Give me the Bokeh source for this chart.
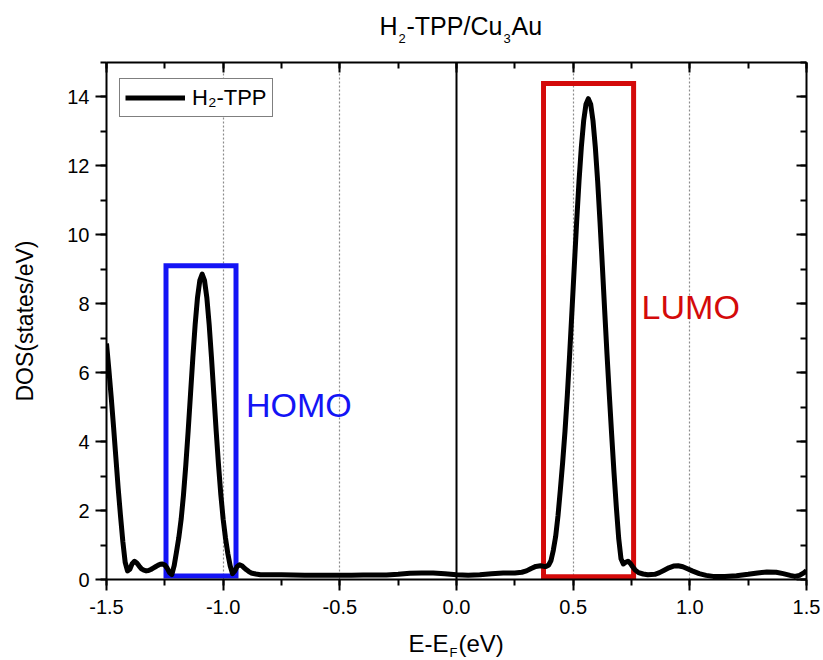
from bokeh.plotting import figure
from bokeh.layouts import column
from bokeh.models import (Range1d, LinearAxis, SingleIntervalTicker, NumeralTickFormatter,
                          Grid, FixedTicker, Label, Legend, LegendItem, CustomJSTickFormatter,
                          ColumnDataSource)
from bokeh.core.properties import value
from bokeh.embed import file_html
from bokeh.resources import INLINE

# ---------------- data ----------------
energy = [-1.50, -1.49, -1.48, -1.47, -1.46, -1.45, -1.44, -1.43, -1.42, -1.41,
          -1.40, -1.39, -1.38, -1.37, -1.36, -1.35, -1.34, -1.33, -1.32, -1.31,
          -1.30, -1.29, -1.28, -1.27, -1.26, -1.25, -1.24, -1.23, -1.22, -1.21,
          -1.20, -1.19, -1.18, -1.17, -1.16, -1.15, -1.14, -1.13, -1.12, -1.11,
          -1.10, -1.09, -1.08, -1.07, -1.06, -1.05, -1.04, -1.03, -1.02, -1.01,
          -1.00, -0.99, -0.98, -0.97, -0.96, -0.95, -0.94, -0.93, -0.92, -0.91,
          -0.90, -0.89, -0.88, -0.86, -0.84, -0.80, -0.75, -0.70, -0.65, -0.60,
          -0.55, -0.50, -0.45, -0.40, -0.35, -0.30, -0.25, -0.20, -0.15, -0.10,
          -0.05, 0.00, 0.05, 0.10, 0.15, 0.20, 0.25, 0.28, 0.30, 0.32,
          0.34, 0.36, 0.375, 0.385, 0.395, 0.405, 0.415, 0.425, 0.435, 0.445,
          0.455, 0.465, 0.475, 0.485, 0.495, 0.505, 0.515, 0.525, 0.535, 0.545,
          0.555, 0.565, 0.575, 0.585, 0.595, 0.605, 0.615, 0.625, 0.635, 0.645,
          0.655, 0.665, 0.675, 0.685, 0.695, 0.705, 0.715, 0.725, 0.735, 0.745,
          0.755, 0.765, 0.78, 0.80, 0.82, 0.85, 0.87, 0.89, 0.91, 0.93,
          0.95, 0.97, 0.99, 1.01, 1.04, 1.07, 1.10, 1.15, 1.20, 1.25,
          1.29, 1.33, 1.37, 1.40, 1.43, 1.45, 1.47, 1.49, 1.50]
dos = [6.85, 6.10, 5.30, 4.45, 3.55, 2.65, 1.85, 1.10, 0.50, 0.25,
       0.30, 0.46, 0.53, 0.48, 0.39, 0.31, 0.27, 0.25, 0.26, 0.29,
       0.33, 0.37, 0.41, 0.44, 0.45, 0.42, 0.33, 0.20, 0.14, 0.40,
       0.80, 1.22, 1.75, 2.46, 3.33, 4.31, 5.37, 6.43, 7.40, 8.18,
       8.68, 8.86, 8.68, 8.18, 7.40, 6.43, 5.37, 4.31, 3.33, 2.46,
       1.75, 1.20, 0.75, 0.40, 0.17, 0.25, 0.38, 0.43, 0.40, 0.34,
       0.28, 0.23, 0.19, 0.16, 0.14, 0.14, 0.14, 0.13, 0.12, 0.12,
       0.12, 0.12, 0.12, 0.13, 0.13, 0.13, 0.15, 0.18, 0.19, 0.19,
       0.17, 0.14, 0.12, 0.14, 0.17, 0.19, 0.19, 0.21, 0.25, 0.32,
       0.38, 0.40, 0.38, 0.38, 0.42, 0.55, 0.85, 1.25, 1.85, 2.60,
       3.40, 4.30, 5.35, 6.54, 7.81, 9.11, 10.38, 11.55, 12.54, 13.31,
       13.79, 13.95, 13.79, 13.31, 12.54, 11.55, 10.38, 9.11, 7.81, 6.54,
       5.35, 4.20, 3.10, 2.10, 1.20, 0.60, 0.45, 0.50, 0.53, 0.47,
       0.37, 0.28, 0.20, 0.16, 0.14, 0.15, 0.20, 0.27, 0.34, 0.39,
       0.40, 0.37, 0.31, 0.25, 0.17, 0.12, 0.09, 0.09, 0.11, 0.15,
       0.19, 0.22, 0.21, 0.17, 0.12, 0.09, 0.12, 0.20, 0.26]

series_label = "H\u2082-TPP"

box_names = ["HOMO", "LUMO"]
box_left = [-1.245, 0.373]
box_right = [-0.945, 0.759]
box_bottom = [0.10, 0.08]
box_top = [9.10, 14.39]
box_colors = ["#1414f5", "#d40a0a"]

dotted_grid_ticks = [-1.0, -0.5, 0.5, 1.0]
zero_line_ticks = [0.0]

# title and x-axis label, split into main text and subscripts
title_main = ["H", "-TPP/Cu", "Au"]
title_sub = ["2", "3"]
xlabel_main = ["E-E", "(eV)"]
xlabel_sub = ["F"]

FONT = "Liberation Sans"
XR = (-1.5, 1.5)

# ---------------- title strip (frame aligned with the main plot) ----------------
tfig = figure(width=823, height=50, x_range=Range1d(*XR), y_range=Range1d(50, 0),
              x_axis_type=None, y_axis_type=None, output_backend="svg",
              toolbar_location=None, min_border=0, min_border_left=106, min_border_right=17)
tfig.outline_line_color = None
tfig.xgrid.visible = False
tfig.ygrid.visible = False
tfig.text(x=[-0.330, -0.2143, 0.2357], y=[25, 25, 25], text=title_main,
          text_font=value(FONT), text_font_size="25px", text_color="black",
          text_baseline="alphabetic", text_align="left")
tfig.text(x=[-0.2486, 0.2014], y=[37.6, 37.6], text=title_sub,
          text_font=value(FONT), text_font_size="13px", text_color="black",
          text_baseline="alphabetic", text_align="left")

# ---------------- main plot ----------------
p = figure(frame_width=700, frame_height=517,
           x_range=Range1d(*XR), y_range=Range1d(0, 15),
           x_axis_type=None, y_axis_type=None,
           output_backend="svg", toolbar_location=None,
           min_border_left=106, min_border_right=17, min_border_top=12, min_border_bottom=43,
           background_fill_color="white", border_fill_color="white")
p.outline_line_color = None
p.xgrid.visible = False
p.ygrid.visible = False

xticker = SingleIntervalTicker(interval=0.5, num_minor_ticks=2)
yticker = SingleIntervalTicker(interval=2, num_minor_ticks=2)
blank = CustomJSTickFormatter(code="return ''")


def style_axis(ax, inward):
    ax.axis_line_color = "black"
    ax.axis_line_width = 2
    ax.major_tick_line_color = "black"
    ax.major_tick_line_width = 2
    ax.minor_tick_line_color = "black"
    ax.minor_tick_line_width = 2
    if inward:
        ax.major_tick_in = 10
        ax.major_tick_out = 0
        ax.minor_tick_in = 6
        ax.minor_tick_out = 0
        ax.major_label_text_font_size = "1px"
        ax.major_label_standoff = 0
    else:
        ax.major_tick_in = 0
        ax.major_tick_out = 11
        ax.minor_tick_in = 0
        ax.minor_tick_out = 6
        ax.major_label_text_font_size = "20px"
    ax.major_label_text_font = FONT
    ax.major_label_text_color = "black"


xb = LinearAxis(ticker=xticker, formatter=NumeralTickFormatter(format="0.0"))
style_axis(xb, False)
xb.major_label_standoff = 9
p.add_layout(xb, "below")

yl = LinearAxis(ticker=yticker, axis_label="DOS(states/eV)")
style_axis(yl, False)
yl.major_label_standoff = 6
yl.axis_label_text_font = FONT
yl.axis_label_text_font_size = "23px"
yl.axis_label_text_font_style = "normal"
yl.axis_label_text_color = "black"
yl.axis_label_standoff = 26
p.add_layout(yl, "left")

xt = LinearAxis(ticker=xticker, formatter=blank)
style_axis(xt, True)
p.add_layout(xt, "above")

yr = LinearAxis(ticker=yticker, formatter=blank)
style_axis(yr, True)
p.add_layout(yr, "right")

# grid lines
p.add_layout(Grid(dimension=0, ticker=FixedTicker(ticks=dotted_grid_ticks),
                  grid_line_color="#8c8c8c", grid_line_dash="2 2", grid_line_width=1.2))
p.add_layout(Grid(dimension=0, ticker=FixedTicker(ticks=zero_line_ticks),
                  grid_line_color="black", grid_line_width=2))

# boxes
box_src = ColumnDataSource(dict(left=box_left, right=box_right, bottom=box_bottom,
                                top=box_top, color=box_colors, name=box_names))
p.quad(left="left", right="right", bottom="bottom", top="top", source=box_src,
       fill_alpha=0, line_color="color", line_width=5, line_join="miter")

# curve
r = p.line(energy, dos, line_color="black", line_width=5, line_join="round")

# HOMO / LUMO labels
p.add_layout(Label(x=box_right[0], y=5.05, x_offset=10, text=box_names[0],
                   text_color=box_colors[0], text_font=FONT, text_font_size="34px",
                   text_baseline="alphabetic"))
p.add_layout(Label(x=box_right[1], y=7.92, x_offset=8, text=box_names[1],
                   text_color=box_colors[1], text_font=FONT, text_font_size="34px",
                   text_baseline="alphabetic"))

# legend
legend = Legend(items=[LegendItem(label=series_label, renderers=[r])],
                location=(13, 462), orientation="vertical",
                border_line_color="black", border_line_width=1,
                background_fill_color="white", background_fill_alpha=1,
                label_text_font=FONT, label_text_font_size="22px", label_text_color="black",
                glyph_width=60, glyph_height=27, padding=5, margin=0, spacing=0,
                label_standoff=7)
p.add_layout(legend)

# ---------------- x-axis label strip (frame aligned with the main plot) ----------------
bfig = figure(width=823, height=38, x_range=Range1d(*XR), y_range=Range1d(38, 0),
              x_axis_type=None, y_axis_type=None, output_backend="svg",
              toolbar_location=None, min_border=0, min_border_left=106, min_border_right=17)
bfig.outline_line_color = None
bfig.xgrid.visible = False
bfig.ygrid.visible = False
bfig.text(x=[-0.2057, 0.0086], y=[21.0, 21.0], text=xlabel_main,
          text_font=value(FONT), text_font_size="24px", text_color="black",
          text_baseline="alphabetic", text_align="left")
bfig.text(x=[-0.030], y=[29.5], text=xlabel_sub,
          text_font=value(FONT), text_font_size="13px", text_color="black",
          text_baseline="alphabetic", text_align="left")

layout = column(tfig, p, bfig, spacing=0)
open("out.html", "w").write(file_html(layout, INLINE))
